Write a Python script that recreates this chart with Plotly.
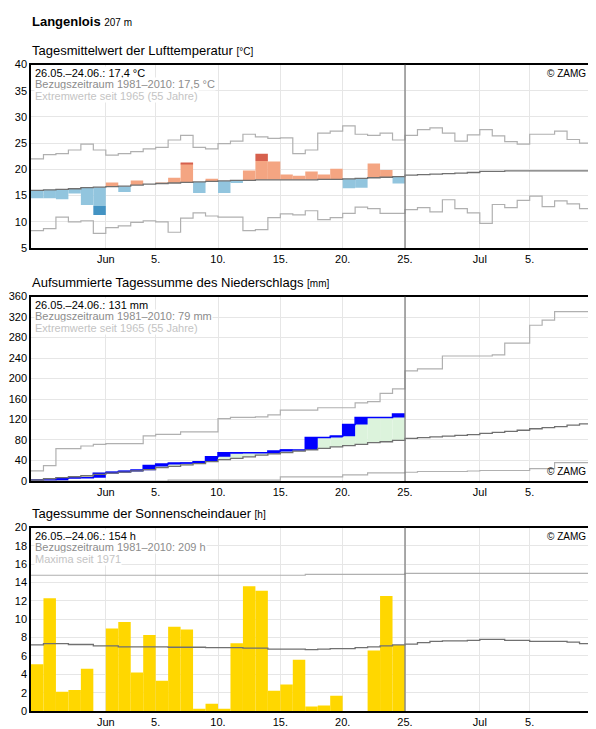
import plotly.graph_objects as go

# day index 0 = 26.05., 30 days of observations (26.05.-24.06.), axis to 10.07.
tick_vals = [6, 10, 15, 20, 25, 30, 36, 40]
tick_text = ['Jun', '5.', '10.', '15.', '20.', '25.', 'Jul', '5.']

# --- temperature (daily mean, °C)
temp = [14.5, 14.5, 14.3, 15.4, 13.2, 11.3, 17.5, 15.7, 17.9, 17.2, 17.4, 18.4, 21.3, 15.5, 18.2,
        15.5, 17.4, 19.8, 23.0, 21.5, 19.0, 18.8, 19.6, 19.0, 20.1, 16.4, 16.5, 21.1, 19.9, 17.3]
temp_clim = [16.0, 16.1, 16.2, 16.3, 16.5, 16.6, 16.7, 16.8, 17.0, 17.2, 17.3, 17.4, 17.5, 17.6, 17.7,
             17.8, 17.9, 17.9, 18.0, 18.0, 18.0, 18.0, 18.0, 18.1, 18.1, 18.2, 18.3, 18.4, 18.5, 18.6,
             18.9, 19.0, 19.1, 19.2, 19.3, 19.4, 19.6, 19.6, 19.7, 19.7, 19.7, 19.7, 19.7, 19.7, 19.7]
temp_max = [22.0, 22.8, 23.0, 23.7, 24.8, 23.7, 22.7, 23.0, 23.4, 23.9, 24.2, 25.6, 26.5, 24.2, 23.9,
            24.9, 25.4, 26.7, 26.2, 25.9, 26.0, 23.0, 23.7, 26.9, 27.3, 28.3, 26.7, 26.5, 26.9, 25.6,
            26.5, 27.6, 27.9, 26.9, 25.4, 26.6, 27.6, 26.4, 25.3, 24.8, 26.7, 26.7, 27.3, 25.7, 25.0]
temp_min = [8.3, 8.7, 10.9, 10.0, 10.2, 7.8, 8.9, 9.2, 9.9, 10.2, 10.0, 8.0, 10.7, 11.7, 11.1,
            10.9, 10.9, 8.3, 8.5, 10.8, 11.5, 11.3, 12.1, 10.4, 10.8, 11.6, 12.8, 12.5, 11.6, 11.6,
            12.3, 12.7, 11.9, 14.2, 12.5, 11.7, 9.7, 13.3, 12.7, 14.1, 14.9, 12.9, 14.0, 13.4, 12.5]

# --- precipitation (cumulative, mm)
rain_cum = [1.9, 1.9, 5.1, 6.4, 6.4, 15.3, 16.6, 18.5, 21.1, 30.0, 33.2, 34.5, 35.1, 37.7, 47.2,
            54.9, 55.0, 55.0, 55.0, 58.7, 60.6, 60.6, 84.9, 84.9, 87.4, 110.4, 123.8, 123.8, 123.8, 131.0]
rain_clim = [1.9, 4.5, 6.4, 8.3, 10.2, 12.8, 15.3, 17.2, 19.8, 22.3, 26.2, 28.7, 31.3, 33.8, 37.7,
             41.5, 44.0, 47.2, 50.4, 53.0, 55.5, 58.1, 60.6, 63.8, 66.4, 68.9, 71.5, 74.7, 76.6, 79.1,
             83.0, 84.5, 86.0, 87.5, 89.0, 90.5, 93.0, 95.0, 97.0, 99.0, 102.0, 104.0, 106.0, 109.0, 111.5]
rain_max = [19.8, 30.0, 63.0, 63.0, 68.3, 71.5, 73.0, 73.0, 73.0, 88.0, 91.0, 91.0, 95.7, 95.7, 95.7,
            121.9, 124.0, 124.0, 125.0, 129.0, 138.5, 138.5, 138.5, 143.0, 143.0, 143.0, 152.5, 155.0, 171.0, 180.0,
            215.0, 219.0, 219.0, 244.0, 244.0, 244.0, 244.0, 246.0, 269.0, 269.0, 304.0, 314.0, 330.6, 330.6, 330.6]
rain_min = [0.0, 0.0, 0.0, 0.0, 0.0, 0.0, 0.0, 0.0, 0.0, 0.0, 0.0, 1.5, 1.5, 1.5, 1.5,
            1.5, 1.5, 1.5, 1.5, 1.5, 8.0, 8.0, 8.0, 8.0, 8.0, 12.0, 12.0, 16.0, 16.0, 16.0,
            17.0, 18.5, 18.5, 18.5, 18.5, 19.5, 20.5, 20.5, 20.5, 20.5, 24.0, 24.0, 36.0, 36.0, 36.0]

# --- sunshine (daily sum, h)
sun = [5.1, 12.3, 2.1, 2.3, 4.6, 0.0, 9.0, 9.7, 4.2, 8.3, 3.3, 9.2, 8.9, 0.25, 0.8,
       0.25, 7.4, 13.6, 13.1, 2.2, 2.9, 5.6, 0.5, 0.6, 1.65, 0.0, 0.0, 6.6, 12.55, 7.2]
sun_clim = [7.2, 7.35, 7.35, 7.25, 7.25, 7.1, 7.1, 7.0, 7.0, 7.0, 7.0, 6.95, 6.95, 6.95, 6.9,
            6.9, 6.9, 6.85, 6.85, 6.75, 6.75, 6.75, 6.7, 6.75, 6.8, 6.8, 6.9, 7.0, 7.1, 7.2,
            7.3, 7.45, 7.6, 7.65, 7.65, 7.7, 7.8, 7.8, 7.7, 7.7, 7.6, 7.6, 7.6, 7.5, 7.35]
sun_max = [14.8] * 22 + [14.9] * 8 + [15.0] * 15

N = 45
days = list(range(len(temp)))
FONT = 'Liberation Sans, Arial, sans-serif'
OFF = 8          # page body margin
W, HT = 596 - OFF, 729 - OFF
ML, MR, MB = 31 - OFF, 4, 18
H = HT - MB      # plot area height (margin top 0)
PW = W - ML - MR


def step(vals, **kw):
    return dict(x=list(range(len(vals) + 1)), y=list(vals) + [vals[-1]], mode='lines',
                line_shape='hv', hoverinfo='skip', showlegend=False, **kw)


def py(px):  # page pixel y -> paper y
    return (H - (px - OFF)) / H


def px_(x):  # page pixel x -> paper x
    return (x - OFF - ML) / PW


fig = go.Figure()

# temperature deviation bars
lite, base, cols = [], [], []
dk_y, dk_b, dk_x, dk_c = [], [], [], []
for i, t in enumerate(temp):
    c = temp_clim[i]
    d = t - c
    lim = 3.6
    if abs(d) > lim:
        s = 1 if d > 0 else -1
        lite.append(s * lim)
        dk_x.append(i + 0.5); dk_b.append(c + s * lim); dk_y.append(d - s * lim)
        dk_c.append('#d6604d' if s > 0 else '#4393c3')
    else:
        lite.append(d)
    base.append(c)
    cols.append('#f4a582' if d > 0 else '#92c5de')
fig.add_bar(x=[i + 0.5 for i in days], y=lite, base=base, width=1, marker_color=cols,
            marker_line_width=0, xaxis='x', yaxis='y', showlegend=False)
fig.add_bar(x=dk_x, y=dk_y, base=dk_b, width=1, marker_color=dk_c, marker_line_width=0,
            xaxis='x', yaxis='y', showlegend=False)
fig.add_scatter(**step(temp_max, line=dict(color='#b0b0b0', width=1.2)), xaxis='x', yaxis='y')
fig.add_scatter(**step(temp_min, line=dict(color='#b0b0b0', width=1.2)), xaxis='x', yaxis='y')
fig.add_scatter(**step(temp_clim, line=dict(color='#707070', width=1.3)), xaxis='x', yaxis='y')

# precipitation
prev = [0.0] + rain_cum[:-1]
fill_y = [rain_cum[i] - rain_clim[i] for i in days]
fill_c = ['#dcf3dc' if v > 0 else '#f3efc8' for v in fill_y]
fig.add_bar(x=[i + 0.5 for i in days], y=fill_y, base=rain_clim[:len(days)], width=1,
            marker_color=fill_c, marker_line_width=0, xaxis='x2', yaxis='y2', showlegend=False)
fig.add_bar(x=[i + 0.5 for i in days], y=[rain_cum[i] - prev[i] for i in days], base=prev, width=1,
            marker_color='#0000ff', marker_line_width=0, xaxis='x2', yaxis='y2', showlegend=False)
fig.add_scatter(**step(rain_cum, line=dict(color='#0000ff', width=1.5)), xaxis='x2', yaxis='y2')
fig.add_scatter(**step(rain_max, line=dict(color='#b0b0b0', width=1.2)), xaxis='x2', yaxis='y2')
fig.add_scatter(**step(rain_min, line=dict(color='#b0b0b0', width=1.2)), xaxis='x2', yaxis='y2')
fig.add_scatter(**step(rain_clim, line=dict(color='#707070', width=1.3)), xaxis='x2', yaxis='y2')

# sunshine
fig.add_bar(x=[i + 0.5 for i in days], y=sun, width=1, marker_color='#ffd700', marker_line_width=0,
            xaxis='x3', yaxis='y3', showlegend=False)
fig.add_scatter(**step(sun_max, line=dict(color='#b0b0b0', width=1.2)), xaxis='x3', yaxis='y3')
fig.add_scatter(**step(sun_clim, line=dict(color='#707070', width=1.3)), xaxis='x3', yaxis='y3')


def dom(top, bot):
    return [py(bot), py(top)]


xa = dict(range=[0, N], tickvals=tick_vals, ticktext=tick_text, showgrid=True, gridcolor='#e6e6e6',
          showline=True, linecolor='black', linewidth=1.5, mirror=True, ticks='', zeroline=False,
          tickfont=dict(size=11, color='black'))
ya = dict(showgrid=True, gridcolor='#e6e6e6', showline=True, linecolor='black', linewidth=1.5,
          mirror=True, ticks='', zeroline=False, tickfont=dict(size=11, color='black'))

fig.update_layout(
    width=W, height=HT, margin=dict(l=ML, r=MR, t=0, b=MB), barmode='overlay',
    plot_bgcolor='white', paper_bgcolor='white', font=dict(family=FONT, size=11, color='black'),
    xaxis=dict(xa, anchor='y'), yaxis=dict(ya, range=[5, 40], dtick=5, domain=dom(59, 244), anchor='x'),
    xaxis2=dict(xa, anchor='y2'), yaxis2=dict(ya, range=[0, 360], dtick=40, domain=dom(293, 479), anchor='x2'),
    xaxis3=dict(xa, anchor='y3'), yaxis3=dict(ya, range=[0, 20], dtick=2, domain=dom(526, 711), anchor='x3'),
)

for k, (yr, lo, hi) in enumerate([('y', 5, 40), ('y2', 0, 360), ('y3', 0, 20)]):
    xr = 'x' if k == 0 else 'x%d' % (k + 1)
    fig.add_shape(type='line', x0=30, x1=30, y0=lo, y1=hi, xref=xr, yref=yr,
                  line=dict(color='#808080', width=1.3))


def note(text, x, y, color, size=11, xanchor='left', yanchor='top', **kw):
    fig.add_annotation(text=text, x=px_(x), y=py(y), xref='paper', yref='paper', showarrow=False,
                       xanchor=xanchor, yanchor=yanchor, font=dict(color=color, size=size), **kw)


note('<b>Langenlois</b> <span style="font-size:10px">207 m</span>', 30, 6, 'black', 13)
titles = [('Tagesmittelwert der Lufttemperatur', '[°C]', 35),
          ('Aufsummierte Tagessumme des Niederschlags', '[mm]', 269),
          ('Tagessumme der Sonnenscheindauer', '[h]', 502)]
for t, u, top in titles:
    note(t + ' <span style="font-size:10px">' + u + '</span>', 30, top, 'black', 13)

blocks = [(60, ['26.05.–24.06.: 17,4 °C', 'Bezugszeitraum 1981–2010: 17,5 °C', 'Extremwerte seit 1965 (55 Jahre)']),
          (294, ['26.05.–24.06.: 131 mm', 'Bezugszeitraum 1981–2010: 79 mm', 'Extremwerte seit 1965 (55 Jahre)']),
          (527, ['26.05.–24.06.: 154 h', 'Bezugszeitraum 1981–2010: 209 h', 'Maxima seit 1971'])]
for top, lines in blocks:
    for j, (txt, c) in enumerate(zip(lines, ['black', '#8c8c8c', '#c4c4c4'])):
        note(txt, 34, top + j * 12, c, bgcolor='white', borderpad=0)

for ypx, ya_ in [(60, 'top'), (477, 'bottom'), (527, 'top')]:
    note('© ZAMG', 588, ypx, 'black', 10, xanchor='right', yanchor=ya_)

fig.write_html('out.html')
